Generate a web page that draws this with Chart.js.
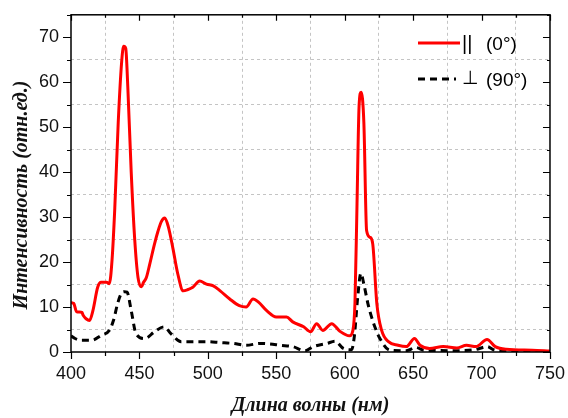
<!DOCTYPE html>
<html>
<head>
<meta charset="utf-8">
<script src="https://cdn.jsdelivr.net/npm/chart.js@4/dist/chart.umd.min.js"></script>
<style>
  body { margin: 0; background: #fff; }
</style>
</head>
<body>
<canvas id="spectrumChart" width="568" height="418"></canvas>
<script>
// Parallel polarisation (0°)
const wavelengthPar = [400, 402, 404, 406, 408, 409, 411, 413.5, 416, 419.5, 422, 426, 428, 430, 432, 434.5, 437, 438.5, 440, 441.5, 444, 446.5, 449, 451.5, 453, 455, 457.5, 461, 463.5, 466, 468.5, 471, 474.5, 478, 482, 485.5, 489, 494, 499, 504, 509, 516, 523, 528, 533, 537, 543, 550, 557.5, 562, 570, 575, 579.5, 584, 590.5, 596.5, 603.5, 606, 607.5, 609, 610.5, 612, 614, 616, 618.5, 620.5, 623.5, 627, 632, 639, 645, 651, 655, 662, 672, 682, 689, 696, 704, 710, 718, 737, 750];
const intensityPar = [11, 10.8, 9, 8.9, 8.8, 8.1, 7.4, 7.0, 9.2, 14.4, 15.5, 15.5, 15.2, 20.5, 32, 51, 64.5, 68, 67.5, 59, 40, 25.3, 16.5, 14.5, 15.5, 16.5, 19.5, 24, 26.8, 29, 29.8, 28, 23, 17.4, 13.6, 13.9, 14.4, 15.8, 15.1, 14.7, 13.6, 11.8, 10.3, 10, 11.8, 11.1, 9.2, 7.8, 7.8, 6.7, 5.6, 4.5, 6.3, 4.8, 6.3, 4.6, 3.6, 4.8, 11, 33, 54.7, 57.8, 51, 27, 25.5, 24, 10.7, 4.8, 2.3, 1.5, 1.2, 3, 1.5, 0.8, 1.2, 0.9, 1.5, 1.2, 2.8, 1.2, 0.6, 0.4, 0.2];

// Perpendicular polarisation (90°)
const wavelengthPerp = [400, 403, 407.5, 415, 422, 428, 431, 434, 436.5, 439, 441, 444, 447.5, 454, 461, 468, 473, 480.5, 487, 499, 509, 518.5, 528, 538, 545, 553, 562, 571, 577, 587, 593, 599, 605, 607, 609.5, 611.8, 614, 617, 619.6, 622, 625.7, 633, 645, 652, 658, 680, 695, 704, 710, 750];
const intensityPerp = [3.6, 3, 2.6, 2.6, 3.7, 4.8, 7, 10.7, 12.9, 13.4, 13.3, 9.2, 4.1, 3, 4.5, 5.6, 4.1, 2.3, 2.3, 2.3, 2.1, 1.9, 1.5, 1.9, 1.8, 1.5, 1.2, 0.3, 1.2, 1.9, 2.4, 0.8, 0.5, 3.4, 12.2, 17.5, 15.1, 10.7, 7.8, 5.6, 3, 0.4, 0.3, 1, 0.4, 0.3, 0.5, 1.2, 0.4, 0.1];

const legendSymbols = ["||", "\u22A5"];
const legendLabels = ["(0\u00B0)", "(90\u00B0)"];
const xTitle = "Длина волны (нм)";
const yTitle = "Интенсивность (отн.ед.)";

const titleFont = 'italic bold 20px "Liberation Serif", "Times New Roman", serif';
const labelFont = '"Liberation Sans", Arial, sans-serif';

function toPoints(xs, ys) {
  return xs.map((x, i) => ({ x: x, y: ys[i] }));
}

// Frame with mirrored ticks on top and right, y title and the inside legend
const framePlugin = {
  id: "frame",
  afterDraw(chart) {
    const ctx = chart.ctx;
    const a = chart.chartArea;
    const xs = chart.scales.x;
    const ys = chart.scales.y;
    ctx.save();
    ctx.strokeStyle = "#000";
    ctx.lineWidth = 1.5;
    ctx.strokeRect(a.left, a.top, a.right - a.left, a.bottom - a.top);

    ctx.lineWidth = 1.2;
    ctx.beginPath();
    for (let v = 400; v <= 750; v += 25) {
      const px = Math.round(xs.getPixelForValue(v)) + 0.5;
      const len = v % 50 === 0 ? 7 : 4;
      ctx.moveTo(px, a.bottom);
      ctx.lineTo(px, a.bottom + len);
      ctx.moveTo(px, a.top);
      ctx.lineTo(px, a.top + len - 1);
    }
    for (let v = 0; v <= 75; v += 5) {
      const py = Math.round(ys.getPixelForValue(v)) + 0.5;
      const len = v % 10 === 0 ? 8 : 4;
      ctx.moveTo(a.left, py);
      ctx.lineTo(a.left - len, py);
      ctx.moveTo(a.right, py);
      ctx.lineTo(a.right - len + 1, py);
    }
    ctx.stroke();

    // y axis title
    ctx.save();
    ctx.translate(22, 195);
    ctx.rotate(-Math.PI / 2);
    ctx.font = titleFont;
    ctx.fillStyle = "#111";
    ctx.textAlign = "center";
    ctx.textBaseline = "middle";
    ctx.fillText(yTitle, 0, 0);
    ctx.restore();

    // legend
    ctx.font = "19px " + labelFont;
    ctx.textBaseline = "middle";
    ctx.fillStyle = "#000";
    ctx.lineWidth = 3;
    ctx.strokeStyle = "#ff0000";
    ctx.setLineDash([]);
    ctx.beginPath();
    ctx.moveTo(418, 43);
    ctx.lineTo(460, 43);
    ctx.stroke();
    ctx.font = "20px " + labelFont;
    ctx.fillText(legendSymbols[0], 462, 44);
    ctx.font = "19px " + labelFont;
    ctx.fillText(legendLabels[0], 486, 45);

    ctx.strokeStyle = "#000";
    ctx.setLineDash([7, 5]);
    ctx.beginPath();
    ctx.moveTo(418, 79);
    ctx.lineTo(456, 79);
    ctx.stroke();
    ctx.setLineDash([]);
    ctx.font = '19px "DejaVu Sans", sans-serif';
    ctx.fillText(legendSymbols[1], 462, 79);
    ctx.font = "19px " + labelFont;
    ctx.fillText(legendLabels[1], 486, 81);
    ctx.restore();
  }
};

const ctx = document.getElementById("spectrumChart").getContext("2d");
const spectrumChart = new Chart(ctx, {
  type: "line",
  data: {
    datasets: [
      {
        label: legendLabels[0],
        data: toPoints(wavelengthPar, intensityPar),
        borderColor: "#ff0000",
        borderWidth: 3,
        pointRadius: 0,
        cubicInterpolationMode: "monotone",
        fill: false,
      },
      {
        label: legendLabels[1],
        data: toPoints(wavelengthPerp, intensityPerp),
        borderColor: "#000000",
        borderWidth: 3,
        borderDash: [7, 5],
        pointRadius: 0,
        cubicInterpolationMode: "monotone",
        fill: false,
      },
    ],
  },
  options: {
    responsive: false,
    animation: false,
    layout: { padding: { top: 11, right: 18, left: 0, bottom: 0 } },
    plugins: { legend: { display: false }, tooltip: { enabled: false } },
    scales: {
      x: {
        type: "linear",
        min: 400,
        max: 750,
        afterFit: (scale) => { scale.height = 66; },
        afterBuildTicks: (scale) => {
          const t = [];
          for (let v = 400; v <= 750; v += 25) t.push({ value: v });
          scale.ticks = t;
        },
        ticks: {
          autoSkip: false,
          maxRotation: 0,
          padding: 3,
          color: "#111",
          font: { family: labelFont, size: 18 },
          callback: (v) => (v % 50 === 0 ? v : ""),
        },
        grid: {
          color: (c) => (c.tick && c.tick.value % 50 !== 0 ? "#c4c4c4" : "rgba(0,0,0,0)"),
          lineWidth: 1,
          tickLength: 8,
          tickColor: "rgba(0,0,0,0)",
        },
        border: { display: false, dash: [3, 3] },
        title: {
          display: true,
          text: xTitle,
          padding: { top: 0, bottom: 0 },
          color: "#111",
          font: { family: '"Liberation Serif", "Times New Roman", serif', size: 20, weight: "bold", style: "italic" },
        },
      },
      y: {
        min: 0,
        max: 75,
        afterFit: (scale) => { scale.width = 71; },
        afterBuildTicks: (scale) => {
          const t = [];
          for (let v = 0; v <= 75; v += 5) t.push({ value: v });
          scale.ticks = t;
        },
        ticks: {
          autoSkip: false,
          padding: 4,
          color: "#111",
          font: { family: labelFont, size: 18 },
          callback: (v) => (v % 10 === 0 ? v : ""),
        },
        grid: {
          color: (c) => (c.tick && c.tick.value % 10 !== 0 && c.tick.value < 75 ? "#c4c4c4" : "rgba(0,0,0,0)"),
          lineWidth: 1,
          tickLength: 8,
          tickColor: "rgba(0,0,0,0)",
        },
        border: { display: false, dash: [3, 3] },
      },
    },
  },
  plugins: [framePlugin],
});
</script>
</body>
</html>
